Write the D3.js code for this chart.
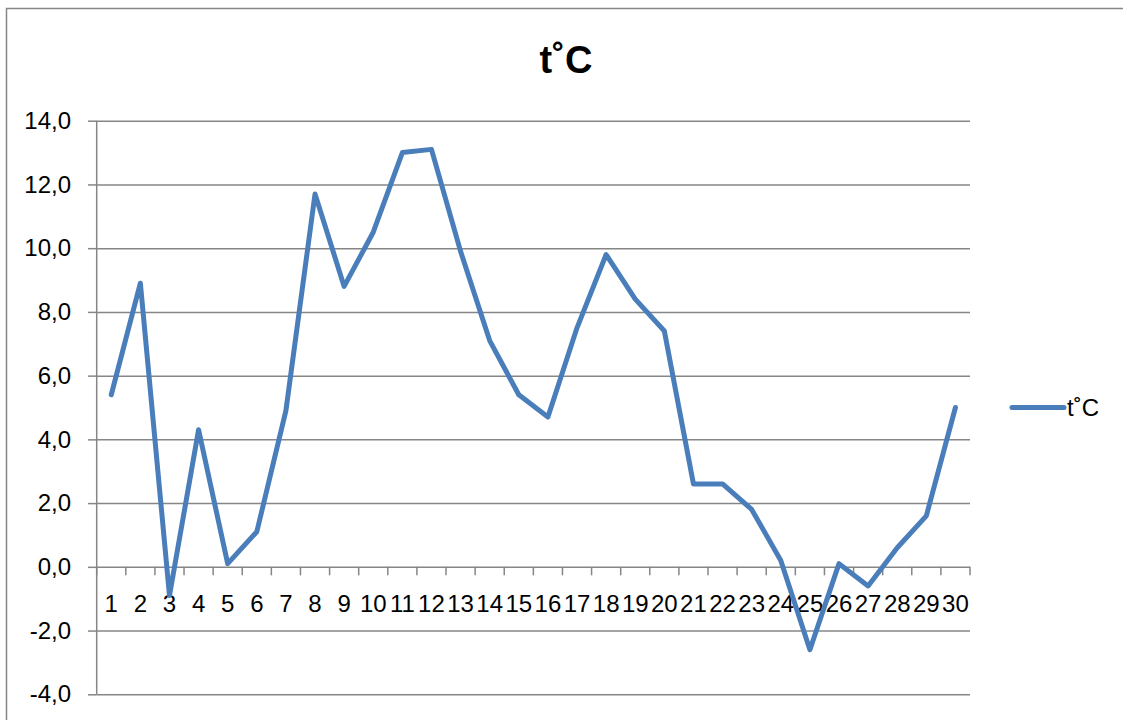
<!DOCTYPE html>
<html>
<head>
<meta charset="utf-8">
<script src="https://cdn.jsdelivr.net/npm/d3@7"></script>
<style>
  body { margin: 0; background: #fff; }
  svg { font-family: "Liberation Sans", Arial, sans-serif; }
</style>
</head>
<body>
<div id="chart"></div>
<script>
const seriesName = "t˚C";
const days = d3.range(1, 31).map(String);
const temps = [5.4, 8.9, -0.9, 4.3, 0.1, 1.1, 4.9, 11.7, 8.8, 10.5,
               13.0, 13.1, 9.9, 7.1, 5.4, 4.7, 7.5, 9.8, 8.4, 7.4,
               2.6, 2.6, 1.8, 0.2, -2.6, 0.1, -0.6, 0.6, 1.6, 5.0];
const yTicks = [-4, -2, 0, 2, 4, 6, 8, 10, 12, 14];

const w = 1123, h = 720;
const plotLeft = 96.7, plotRight = 970, plotTop = 120.7, plotBottom = 694.3;
const lineColor = "#4a7ebb";
const gridColor = "#868686";

const svg = d3.select("#chart").append("svg")
  .attr("width", w)
  .attr("height", h);

// chart frame
svg.append("rect")
  .attr("x", 6.5).attr("y", 8.5)
  .attr("width", 1140).attr("height", 740)
  .attr("fill", "none")
  .attr("stroke", gridColor)
  .attr("stroke-width", 1.5);

const xScale = d3.scaleBand().domain(days).range([plotLeft, plotRight]);
const yScale = d3.scaleLinear().domain([-4, 14]).range([plotBottom, plotTop]);

// horizontal gridlines
svg.append("g")
  .attr("transform", "translate(" + plotLeft + ",0)")
  .call(d3.axisLeft(yScale).tickValues(yTicks).tickSize(-(plotRight - plotLeft)).tickFormat(""))
  .call(g => g.select(".domain").remove())
  .call(g => g.selectAll("line").attr("stroke", gridColor).attr("stroke-width", 1.5));

// y axis (hyphen minus, comma decimal like the original)
svg.append("g")
  .attr("transform", "translate(" + plotLeft + ",0)")
  .call(d3.axisLeft(yScale).tickValues(yTicks).tickSize(8.7).tickPadding(17)
    .tickFormat(d => d.toFixed(1).replace(".", ",")))
  .call(g => g.select(".domain").attr("d", "M0," + plotTop + "V" + plotBottom)
    .attr("stroke", gridColor).attr("stroke-width", 1.5))
  .call(g => g.selectAll("line").attr("stroke", gridColor).attr("stroke-width", 1.5))
  .call(g => g.selectAll("text").attr("font-size", 24).attr("fill", "#000"));

// x axis on the zero line
const xAxisG = svg.append("g")
  .attr("transform", "translate(0," + yScale(0) + ")")
  .call(d3.axisBottom(xScale).tickSize(0).tickPadding(28))
  .call(g => g.select(".domain").remove())
  .call(g => g.selectAll("text").attr("font-size", 24).attr("fill", "#000"));

// tick marks between categories
const boundaries = days.map(d => xScale(d)).concat([plotRight]);
xAxisG.selectAll(".bound")
  .data(boundaries)
  .enter()
  .append("line")
  .attr("class", "bound")
  .attr("x1", d => d).attr("x2", d => d)
  .attr("y1", 0).attr("y2", 8.5)
  .attr("stroke", gridColor)
  .attr("stroke-width", 1.5);

// series line
const line = d3.line()
  .x((d, i) => xScale(days[i]) + xScale.bandwidth() / 2)
  .y(d => yScale(d));

svg.append("path")
  .datum(temps)
  .attr("d", line)
  .attr("fill", "none")
  .attr("stroke", lineColor)
  .attr("stroke-width", 5)
  .attr("stroke-linejoin", "round")
  .attr("stroke-linecap", "round");

// title
svg.append("text")
  .attr("x", 566).attr("y", 73)
  .attr("text-anchor", "middle")
  .attr("font-size", 38)
  .attr("font-weight", "bold")
  .text(seriesName);

// legend
const legend = svg.append("g");
legend.append("line")
  .attr("x1", 1012).attr("x2", 1064)
  .attr("y1", 407.5).attr("y2", 407.5)
  .attr("stroke", lineColor)
  .attr("stroke-width", 5)
  .attr("stroke-linecap", "round");
legend.append("text")
  .attr("x", 1067).attr("y", 416)
  .attr("font-size", 24)
  .text(seriesName);
</script>
</body>
</html>
